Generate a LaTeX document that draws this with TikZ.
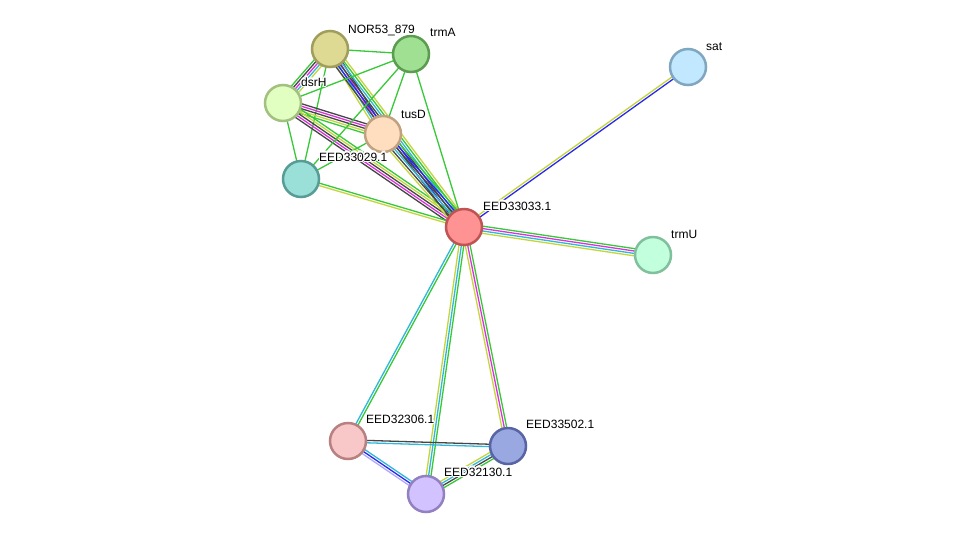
\documentclass[tikz,border=0pt]{standalone}
\usepackage{fontspec}
\setmainfont{Liberation Sans}
\usepackage[copies]{contour}
\contourlength{1.1pt}
\contournumber{16}
\usetikzlibrary{calc,backgrounds}
\definecolor{eG}{RGB}{56,200,56}
\definecolor{eY}{RGB}{196,214,60}
\definecolor{eC}{RGB}{48,184,218}
\definecolor{eM}{RGB}{220,50,220}
\definecolor{eK}{RGB}{70,70,70}
\definecolor{eB}{RGB}{40,40,236}
\definecolor{eL}{RGB}{176,168,250}
\tikzset{
  nd/.style={circle, minimum size=36pt, inner sep=0pt, line width=2.5pt},
  lab/.style={anchor=base west, inner sep=0pt, font=\fontsize{12}{14}\selectfont},
  edge/.style={line width=1.3pt}
}
\newcommand\medge[3]{%
  \foreach \c [count=\i] in {#3} {\xdef\mcount{\i}}%
  \foreach \c [count=\i] in {#3} {%
    \pgfmathsetlengthmacro\off{(\i-(\mcount+1)/2)*2.4pt}%
    \draw[edge,\c] ($(#1.center)!\off!90:(#2.center)$) -- ($(#2.center)!\off!-90:(#1.center)$);
  }%
}
\newcommand\hl[1]{\contour{white}{#1}}
\begin{document}
\begin{tikzpicture}[x=1pt,y=-1pt]
\path[use as bounding box] (0,0) rectangle (975,539);
% nodes
\node[nd, fill={rgb,255:red,222;green,218;blue,148}, draw={rgb,255:red,160;green,158;blue,92}] (nor) at (330,49) {};
\node[nd, fill={rgb,255:red,160;green,224;blue,146}, draw={rgb,255:red,92;green,156;blue,80}] (trmA) at (411,54) {};
\node[nd, fill={rgb,255:red,226;green,255;blue,194}, draw={rgb,255:red,162;green,192;blue,128}] (dsrH) at (283,103) {};
\node[nd, fill={rgb,255:red,255;green,222;blue,192}, draw={rgb,255:red,192;green,162;blue,128}] (tusD) at (383,134) {};
\node[nd, fill={rgb,255:red,154;green,224;blue,216}, draw={rgb,255:red,88;green,156;blue,150}] (e29) at (301,179) {};
\node[nd, fill={rgb,255:red,255;green,146;blue,146}, draw={rgb,255:red,192;green,84;blue,84}] (e33) at (464,227) {};
\node[nd, fill={rgb,255:red,194;green,232;blue,255}, draw={rgb,255:red,128;green,166;blue,192}] (sat) at (688,67) {};
\node[nd, fill={rgb,255:red,194;green,255;blue,220}, draw={rgb,255:red,128;green,192;blue,156}] (trmU) at (653,255) {};
\node[nd, fill={rgb,255:red,248;green,200;blue,200}, draw={rgb,255:red,184;green,128;blue,128}] (e306) at (348,441) {};
\node[nd, fill={rgb,255:red,154;green,168;blue,226}, draw={rgb,255:red,88;green,100;blue,164}] (e502) at (508,446) {};
\node[nd, fill={rgb,255:red,210;green,194;blue,255}, draw={rgb,255:red,146;green,128;blue,192}] (e130) at (426,494) {};
% edges
\begin{scope}[on background layer]
\fill[white] (0,0) rectangle (975,539);
\medge{nor}{trmA}{eG}
\medge{nor}{dsrH}{eG,eK,eM,eC,eY}
\medge{nor}{tusD}{eY,eC,eM,eK}
\medge{nor}{e33}{eK,eB,eK,eC,eG,eY}
\medge{nor}{e29}{eG}
\medge{dsrH}{trmA}{eG}
\medge{dsrH}{tusD}{eG,eY,eK,eM,eK}
\medge{dsrH}{e33}{eK,eM,eK,eY,eG}
\medge{dsrH}{e29}{eG}
\medge{trmA}{tusD}{eG}
\medge{trmA}{e29}{eG}
\medge{trmA}{e33}{eG}
\medge{tusD}{e29}{eG}
\medge{tusD}{e33}{eY,eK,eC,eK,eB,eG}
\medge{e29}{e33}{eY,eG}
\medge{e33}{sat}{eB,eY}
\medge{e33}{trmU}{eY,eC,eM,eG}
\medge{e33}{e306}{eC,eG}
\medge{e33}{e130}{eY,eC,eG}
\medge{e33}{e502}{eY,eM,eG}
\medge{e306}{e502}{eC,eK}
\medge{e306}{e130}{eL,eB,eC}
\medge{e130}{e502}{eG,eK,eC,eY}
\end{scope}
% labels
\node[lab] (lnor) at (348,33) {\hl{NOR53\_879}};
\node[lab] (ltrmA) at (430,36) {\hl{trmA}};
\node[lab] (ldsrH) at (301,86) {\hl{dsrH}};
\node[lab] (ltusD) at (401,118) {\hl{tusD}};
\node[lab] (le29) at (319,161) {\hl{EED33029.1}};
\node[lab] (le33) at (483,210) {\hl{EED33033.1}};
\node[lab] (lsat) at (706,50) {\hl{sat}};
\node[lab] (ltrmU) at (671,238) {\hl{trmU}};
\node[lab] (le306) at (366,423) {\hl{EED32306.1}};
\node[lab] (le502) at (526,428) {\hl{EED33502.1}};
\node[lab] (le130) at (444,476) {\hl{EED32130.1}};
\end{tikzpicture}
\end{document}
